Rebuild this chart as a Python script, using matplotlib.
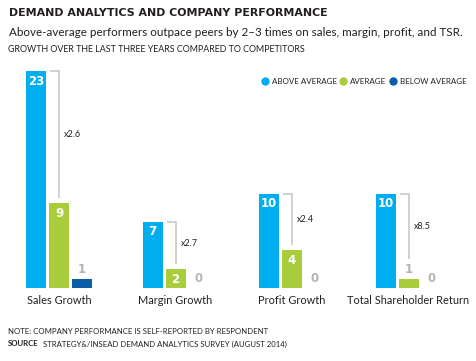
import matplotlib
matplotlib.use("Agg")
import matplotlib.pyplot as plt

categories = ["Sales Growth", "Margin Growth", "Profit Growth", "Total Shareholder Return"]
above = [23, 7, 10, 10]
average = [9, 2, 4, 1]
below = [1, 0, 0, 0]
ratios = ["x2.6", "x2.7", "x2.4", "x8.5"]
series_names = ["ABOVE AVERAGE", "AVERAGE", "BELOW AVERAGE"]

C_BLUE = "#00AEEF"
C_GREEN = "#A8CC3A"
C_DARK = "#0A5DA6"
C_GRAY = "#B4B4B4"
C_BRK = "#C8C8C8"
C_TEXT = "#231F20"

W, H = 476, 361
fig = plt.figure(figsize=(W / 100, H / 100), dpi=100)
fig.patch.set_facecolor("white")

def fx(x):
    return x / W

def fy(y):
    return 1 - y / H

FONT = "Lato"

# axes: baseline at y=288px, top at 60px
base_px, top_px = 288, 60
ppu = 9.43  # pixels per unit
g0, gs = 59.0, 116.5
ax = fig.add_axes([0, fy(base_px), 1, (base_px - top_px) / H])
ax.set_xlim(-g0 / gs, (W - g0) / gs)
ax.set_ylim(0, (base_px - top_px) / ppu)
ax.axis("off")

step = 23 / gs
bw = 20 / gs
u = 1 / ppu  # one pixel in data units (y)
xu = 1 / gs  # one pixel in data units (x)

for i, cat in enumerate(categories):
    xs = [i - step, i, i + step]
    vals = [above[i], average[i], below[i]]
    cols = [C_BLUE, C_GREEN, C_DARK]
    for x, v, c in zip(xs, vals, cols):
        if v > 0:
            ax.bar(x, v, width=bw, color=c, linewidth=0)
        if v >= 2:
            ax.text(x, v - 10 * u, str(v), ha="center", va="center", color="white",
                    fontsize=8.5, fontweight="black", family="DejaVu Sans")
        else:
            ax.text(x, v + 9.5 * u, str(v), ha="center", va="center", color=C_GRAY,
                    fontsize=8.5, fontweight="black", family="DejaVu Sans")
    # bracket
    gx = xs[1]
    top = above[i]
    bot = average[i] + (20 * u if average[i] < 2 else 5 * u)
    ax.plot([gx - 9 * xu, gx, gx], [top, top, bot], color=C_BRK, lw=1.2,
            solid_joinstyle="miter", solid_capstyle="butt")
    ax.text(gx + 5 * xu, (top + bot) / 2, ratios[i], ha="left", va="center",
            fontsize=6.5, color=C_TEXT, family=FONT)
    fig.text(fx(g0 + i * gs), fy(301), cat, ha="center", va="center",
             fontsize=7.9, color=C_TEXT, family=FONT)

# titles
fig.text(fx(9), fy(13), "DEMAND ANALYTICS AND COMPANY PERFORMANCE", ha="left", va="center",
         fontsize=7.9, fontweight="black", color=C_TEXT, family="DejaVu Sans")
fig.text(fx(9), fy(33), "Above-average performers outpace peers by 2–3 times on sales, margin, profit, and TSR.",
         ha="left", va="center", fontsize=8.4, color=C_TEXT, family=FONT)
fig.text(fx(8), fy(50), "GROWTH OVER THE LAST THREE YEARS COMPARED TO COMPETITORS",
         ha="left", va="center", fontsize=6.4, color=C_TEXT, family=FONT)

# legend
leg = [(265, 272, series_names[0], C_BLUE), (343, 350, series_names[1], C_GREEN),
       (393, 400, series_names[2], C_DARK)]
for mx, tx, name, c in leg:
    fig.add_artist(plt.Line2D([fx(mx)], [fy(81)], marker="o", markersize=5,
                              color=c, linestyle="none", transform=fig.transFigure))
    fig.text(fx(tx), fy(82), name, ha="left", va="center", fontsize=5.8,
             color=C_TEXT, family=FONT)

# footnotes
fig.text(fx(8), fy(332), "NOTE: COMPANY PERFORMANCE IS SELF-REPORTED BY RESPONDENT",
         ha="left", va="center", fontsize=5.6, color=C_TEXT, family=FONT)
fig.text(fx(8), fy(344), "SOURCE", ha="left", va="center", fontsize=5.6,
         fontweight="bold", color=C_TEXT, family=FONT)
fig.text(fx(43), fy(344), "STRATEGY&/INSEAD DEMAND ANALYTICS SURVEY (AUGUST 2014)",
         ha="left", va="center", fontsize=5.6, color=C_TEXT, family=FONT)

fig.savefig("out.png", dpi=100, facecolor="white")
